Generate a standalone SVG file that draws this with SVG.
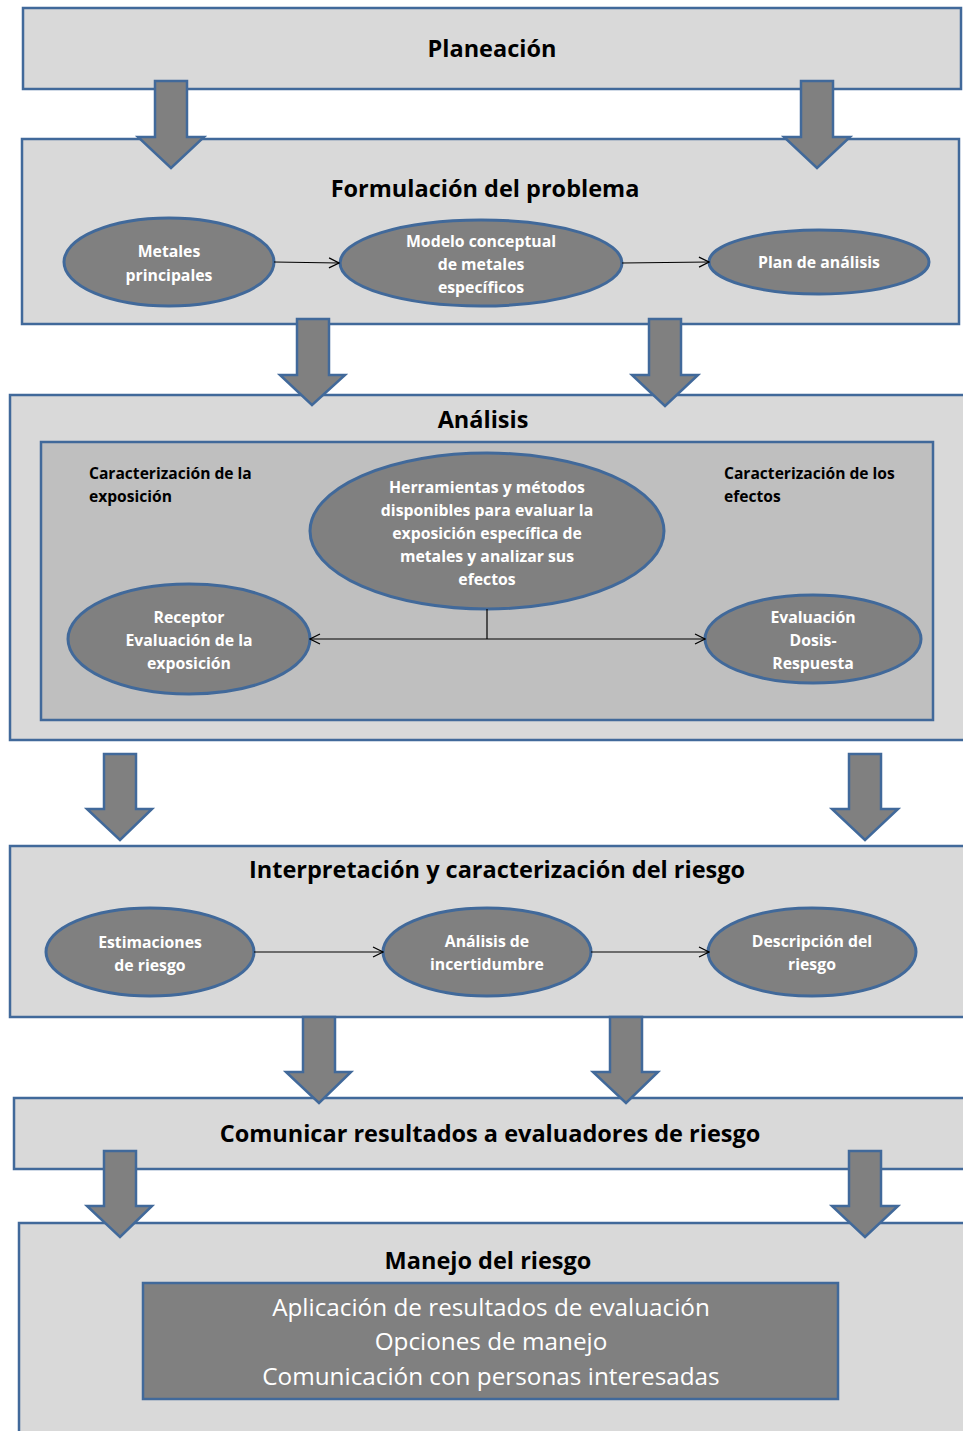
<svg xmlns="http://www.w3.org/2000/svg" width="963" height="1431" viewBox="0 0 963 1431">
<defs>
<style>
.box{fill:#d9d9d9;stroke:#41699a;stroke-width:2.5}
.inner{fill:#bfbfbf;stroke:#41699a;stroke-width:2.5}
.ell{fill:#808080;stroke:#41699a;stroke-width:3}
.barrow{fill:#808080;stroke:#41699a;stroke-width:2.5;stroke-linejoin:miter}
.title{font-family:"Open Sans","Noto Sans",sans-serif;font-weight:bold;font-size:23.5px;fill:#000;text-anchor:middle}
.et{font-family:"Open Sans","Noto Sans",sans-serif;font-weight:bold;font-size:15.8px;fill:#fff;text-anchor:middle}
.lbl{font-family:"Open Sans","Noto Sans",sans-serif;font-weight:bold;font-size:15.6px;fill:#000}
.big{font-family:"Open Sans","Noto Sans",sans-serif;font-size:24.3px;fill:#fff;text-anchor:middle}
.con{stroke:#000;stroke-width:1.2;fill:none}
</style>
<marker id="oa" markerWidth="12" markerHeight="12" refX="11" refY="6" orient="auto" markerUnits="userSpaceOnUse">
<path d="M1,1 L11,6 L1,11" fill="none" stroke="#000" stroke-width="1.2"/>
</marker>
<marker id="oas" markerWidth="12" markerHeight="12" refX="11" refY="6" orient="auto-start-reverse" markerUnits="userSpaceOnUse">
<path d="M1,1 L11,6 L1,11" fill="none" stroke="#000" stroke-width="1.2"/>
</marker>
</defs>

<g id="planeacion">
<rect class="box" x="23" y="8" width="938" height="81"/>
<text class="title" x="492" y="57">Planeación</text>
</g>

<g id="formulacion">
<rect class="box" x="22" y="139" width="937" height="185"/>
<text class="title" x="485" y="197">Formulación del problema</text>
</g>
<g id="metales">
<ellipse class="ell" cx="169" cy="262" rx="105" ry="44"/>
<text class="et" x="169" y="257">Metales</text>
<text class="et" x="169" y="281">principales</text>
</g>
<g id="modelo">
<ellipse class="ell" cx="481" cy="263" rx="141" ry="43"/>
<text class="et" x="481" y="247">Modelo conceptual</text>
<text class="et" x="481" y="270">de metales</text>
<text class="et" x="481" y="293">específicos</text>
</g>
<g id="plan">
<ellipse class="ell" cx="819" cy="262" rx="110" ry="32"/>
<text class="et" x="819" y="268">Plan de análisis</text>
</g>

<g id="analisis">
<rect class="box" x="10" y="395" width="960" height="345"/>
<text class="title" x="483" y="428">Análisis</text>
<rect class="inner" x="41" y="442" width="892" height="278"/>
<text class="lbl" x="89" y="479">Caracterización de la</text>
<text class="lbl" x="89" y="502">exposición</text>
<text class="lbl" x="724" y="479">Caracterización de los</text>
<text class="lbl" x="724" y="502">efectos</text>
</g>
<g id="herramientas">
<ellipse class="ell" cx="487" cy="531" rx="177" ry="78"/>
<text class="et" x="487" y="493">Herramientas y métodos</text>
<text class="et" x="487" y="516">disponibles  para evaluar la</text>
<text class="et" x="487" y="539">exposición específica de</text>
<text class="et" x="487" y="562">metales y analizar sus</text>
<text class="et" x="487" y="585">efectos</text>
</g>
<g id="receptor">
<ellipse class="ell" cx="189" cy="639" rx="121" ry="55"/>
<text class="et" x="189" y="623">Receptor</text>
<text class="et" x="189" y="646">Evaluación de la</text>
<text class="et" x="189" y="669">exposición</text>
</g>
<g id="dosis">
<ellipse class="ell" cx="813" cy="639" rx="108" ry="44"/>
<text class="et" x="813" y="623">Evaluación</text>
<text class="et" x="813" y="646">Dosis-</text>
<text class="et" x="813" y="669">Respuesta</text>
</g>

<g id="interpretacion">
<rect class="box" x="10" y="846" width="960" height="171"/>
<text class="title" x="497" y="878">Interpretación y caracterización del riesgo</text>
</g>
<g id="estimaciones">
<ellipse class="ell" cx="150" cy="952" rx="104" ry="44"/>
<text class="et" x="150" y="948">Estimaciones</text>
<text class="et" x="150" y="971">de riesgo</text>
</g>
<g id="incertidumbre">
<ellipse class="ell" cx="487" cy="952" rx="104" ry="44"/>
<text class="et" x="487" y="947">Análisis de</text>
<text class="et" x="487" y="970">incertidumbre</text>
</g>
<g id="descripcion">
<ellipse class="ell" cx="812" cy="952" rx="104" ry="44"/>
<text class="et" x="812" y="947">Descripción del</text>
<text class="et" x="812" y="970">riesgo</text>
</g>

<g id="comunicar">
<rect class="box" x="14" y="1098" width="956" height="71"/>
<text class="title" x="490" y="1142">Comunicar resultados a evaluadores de riesgo</text>
</g>

<g id="manejo">
<rect class="box" x="19" y="1223" width="951" height="215"/>
<text class="title" x="488" y="1269">Manejo del riesgo</text>
<rect class="ell" x="143" y="1283" width="695" height="116" style="stroke-width:2.5"/>
<text class="big" x="491" y="1316">Aplicación de resultados de evaluación</text>
<text class="big" x="491" y="1350">Opciones de manejo</text>
<text class="big" x="491" y="1385">Comunicación con personas interesadas</text>
</g>

<g id="connectors">
<line class="con" x1="274" y1="262" x2="339" y2="263" marker-end="url(#oa)"/>
<line class="con" x1="622" y1="263" x2="709" y2="262" marker-end="url(#oa)"/>
<line class="con" x1="487" y1="609" x2="487" y2="639"/>
<line class="con" x1="310" y1="639" x2="705" y2="639" marker-start="url(#oas)" marker-end="url(#oa)"/>
<line class="con" x1="254" y1="952" x2="383" y2="952" marker-end="url(#oa)"/>
<line class="con" x1="591" y1="952" x2="709" y2="952" marker-end="url(#oa)"/>
</g>

<g id="block-arrows">
<path class="barrow" d="M155,81 H187 V137 H204 L171,168 L138,137 H155 Z"/>
<path class="barrow" d="M801,81 H833 V137 H850 L817,168 L784,137 H801 Z"/>
<path class="barrow" d="M297,319 H329 V375 H345 L312,405 L280,375 H297 Z"/>
<path class="barrow" d="M649,319 H681 V375 H698 L665,406 L632,375 H649 Z"/>
<path class="barrow" d="M104,754 H136 V809 H152 L120,840 L87,809 H104 Z"/>
<path class="barrow" d="M849,754 H881 V809 H898 L865,840 L832,809 H849 Z"/>
<path class="barrow" d="M303,1017 H335 V1072 H351 L319,1103 L286,1072 H303 Z"/>
<path class="barrow" d="M610,1017 H642 V1072 H658 L626,1103 L593,1072 H610 Z"/>
<path class="barrow" d="M104,1151 H136 V1206 H152 L120,1237 L87,1206 H104 Z"/>
<path class="barrow" d="M849,1151 H881 V1206 H898 L865,1237 L832,1206 H849 Z"/>
</g>
</svg>
